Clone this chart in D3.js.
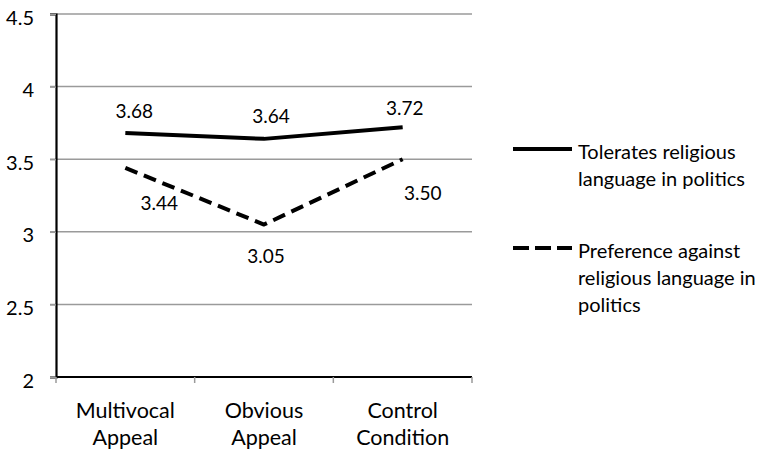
<!DOCTYPE html>
<html>
<head>
<meta charset="utf-8">
<script src="https://cdn.jsdelivr.net/npm/d3@7"></script>
<style>
  html, body { margin: 0; padding: 0; background: #fff; }
  svg text { font-family: Lato, "Open Sans", sans-serif; fill: #000; }
</style>
</head>
<body>
<svg id="chart" width="764" height="452"></svg>
<script>
// Conditions on the x axis (two-line labels)
const categories = ["Multivocal Appeal", "Obvious Appeal", "Control Condition"];
const categoryLines = [["Multivocal", "Appeal"], ["Obvious", "Appeal"], ["Control", "Condition"]];

// Mean scores per group
const tolerates = [3.68, 3.64, 3.72];
const against = [3.44, 3.05, 3.50];

const seriesNames = ["Tolerates religious language in politics", "Preference against religious language in politics"];
const seriesLegendLines = [["Tolerates religious", "language in politics"], ["Preference against", "religious language in", "politics"]];

const yTicks = [2, 2.5, 3, 3.5, 4, 4.5];
const yTickLabels = ["2", "2.5", "3", "3.5", "4", "4.5"];

const svg = d3.select("#chart");
const plotLeft = 56, plotRight = 472, plotTop = 14, plotBottom = 377;

const x = d3.scaleBand().domain(categories).range([plotLeft, plotRight]).padding(0);
const y = d3.scaleLinear().domain([2, 4.5]).range([plotBottom, plotTop]);

// Horizontal gridlines
svg.append("g").selectAll("line").data(yTicks.filter(t => t > 2)).join("line")
  .attr("x1", plotLeft - 6).attr("x2", plotRight)
  .attr("y1", d => y(d)).attr("y2", d => y(d))
  .attr("stroke", "#9a9a9a").attr("stroke-width", 1.5);

// Y axis
const yAxis = d3.axisLeft(y).tickValues(yTicks).tickFormat((d, i) => yTickLabels[i]).tickSize(6).tickPadding(16);
const gy = svg.append("g").attr("transform", `translate(${plotLeft},0)`).call(yAxis);
gy.select(".domain").attr("stroke", "#000").attr("stroke-width", 2.2);
gy.selectAll(".tick line").attr("stroke", "#9a9a9a").attr("stroke-width", 1.5);
gy.selectAll(".tick text").attr("font-size", 20).attr("fill", "#000").attr("dy", "0.5em")
  .style("font-family", "Lato, sans-serif");

// X axis baseline and category boundary ticks
const boundaries = [plotLeft].concat(categories.map(c => x(c) + x.bandwidth()));
svg.append("line").attr("x1", plotLeft).attr("x2", plotRight).attr("y1", plotBottom).attr("y2", plotBottom)
  .attr("stroke", "#000").attr("stroke-width", 2.2);
svg.append("g").selectAll("line").data(boundaries).join("line")
  .attr("x1", d => d).attr("x2", d => d).attr("y1", plotBottom).attr("y2", plotBottom + 6)
  .attr("stroke", "#9a9a9a").attr("stroke-width", 1.5);

// Category labels
const cx = c => x(c) + x.bandwidth() / 2;
const catG = svg.append("g").selectAll("text").data(categories).join("text")
  .attr("x", cx).attr("y", 418).attr("text-anchor", "middle").attr("font-size", 21.5);
catG.selectAll("tspan").data((d, i) => categoryLines[i]).join("tspan")
  .attr("x", function() { return d3.select(this.parentNode).attr("x"); })
  .attr("dy", (d, i) => i === 0 ? 0 : 27).text(d => d);

// Lines
const line = d3.line().x((d, i) => cx(categories[i])).y(d => y(d));
svg.append("path").datum(tolerates).attr("d", line)
  .attr("fill", "none").attr("stroke", "#000").attr("stroke-width", 4).attr("stroke-linejoin", "round");
svg.append("path").datum(against).attr("d", line)
  .attr("fill", "none").attr("stroke", "#000").attr("stroke-width", 4)
  .attr("stroke-dasharray", "13,7").attr("stroke-linejoin", "round");

// Value labels
const tolOffsets = [[9, -15], [7, -16], [2, -12]];
const agaOffsets = [[34, 42], [2, 38], [20, 41]];
svg.append("g").selectAll("text").data(tolerates).join("text")
  .attr("x", (d, i) => cx(categories[i]) + tolOffsets[i][0])
  .attr("y", (d, i) => y(d) + tolOffsets[i][1])
  .attr("text-anchor", "middle").attr("font-size", 19).text(d => d.toFixed(2));
svg.append("g").selectAll("text").data(against).join("text")
  .attr("x", (d, i) => cx(categories[i]) + agaOffsets[i][0])
  .attr("y", (d, i) => y(d) + agaOffsets[i][1])
  .attr("text-anchor", "middle").attr("font-size", 19).text(d => d.toFixed(2));

// Legend
const legendY = [149, 248];
const leg = svg.append("g").selectAll("g").data(seriesNames).join("g");
leg.append("line").attr("x1", 513).attr("x2", 572)
  .attr("y1", (d, i) => legendY[i]).attr("y2", (d, i) => legendY[i])
  .attr("stroke", "#000").attr("stroke-width", 4)
  .attr("stroke-dasharray", (d, i) => i === 0 ? null : "16,6");
const legText = leg.append("text").attr("x", 578).attr("y", (d, i) => legendY[i] + 10).attr("font-size", 20);
legText.selectAll("tspan").data((d, i) => seriesLegendLines[i]).join("tspan")
  .attr("x", 578).attr("dy", (d, i) => i === 0 ? 0 : 27).text(d => d);
</script>
</body>
</html>
